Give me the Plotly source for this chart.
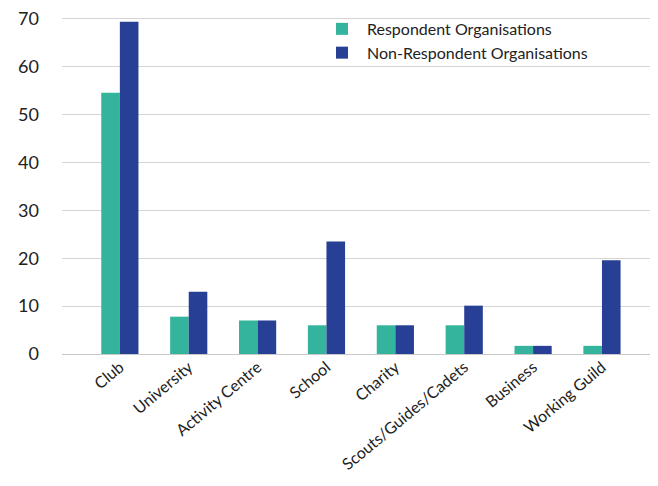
import plotly.graph_objects as go

categories = ["Club", "University", "Activity Centre", "School", "Charity",
              "Scouts/Guides/Cadets", "Business", "Working Guild"]
respondent = [54.6, 7.8, 7.0, 6.0, 6.0, 6.0, 1.7, 1.7]
non_respondent = [69.4, 13.0, 7.0, 23.5, 6.0, 10.1, 1.7, 19.6]
y_ticks = [0, 10, 20, 30, 40, 50, 60, 70]

fig = go.Figure()
fig.add_trace(go.Bar(x=categories, y=respondent, name="Respondent Organisations",
                     marker=dict(color="#35B49D", line=dict(width=0))))
fig.add_trace(go.Bar(x=categories, y=non_respondent, name="Non-Respondent Organisations",
                     marker=dict(color="#273F95", line=dict(width=0))))

# page body has an 8px margin, so figure is 8px smaller and margins shifted
fig.update_layout(
    width=650, height=478,
    barmode="group", bargap=0.46, bargroupgap=0,
    margin=dict(l=54, r=3, t=9, b=132, autoexpand=False),
    paper_bgcolor="white", plot_bgcolor="white",
    font=dict(family="Lato, Open Sans, sans-serif", color="#222222"),
    legend=dict(x=0.43, y=1.015, xanchor="left", yanchor="top",
                font=dict(size=16), bgcolor="rgba(0,0,0,0)",
                tracegroupgap=2, itemwidth=40),
)
fig.update_xaxes(range=[-0.84, 7.77], tickangle=-40, tickfont=dict(size=16),
                 showgrid=False, showline=False, ticks="", automargin=False)
fig.update_yaxes(range=[0, 70.4], tickvals=y_ticks, tickfont=dict(size=18),
                 showgrid=True, gridcolor="#d4d4d4", gridwidth=1,
                 zeroline=True, zerolinecolor="#c8c8c8", zerolinewidth=1,
                 ticklabelstandoff=22, ticklabeloverflow="allow",
                 showline=False, automargin=False)

fig.write_html("out.html")
